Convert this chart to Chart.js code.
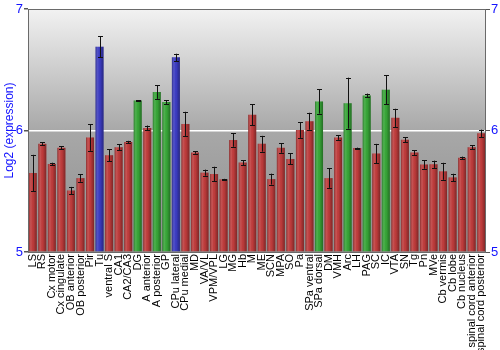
<!DOCTYPE html>
<html>
<head>
<meta charset="utf-8">
<script src="https://cdn.jsdelivr.net/npm/chart.js@4/dist/chart.umd.min.js"></script>
<style>
  html, body { margin: 0; padding: 0; background: #fff; }
  #wrap { width: 500px; height: 350px; }
</style>
</head>
<body>
<div id="wrap"><canvas id="c" width="500" height="350"></canvas></div>
<script>
// Brain regions (x categories)
const regions = [
  'LS', 'RS', 'Cx motor', 'Cx cingulate', 'OB anterior', 'OB posterior', 'Pir', 'Tu',
  'ventral S', 'CA1', 'CA2/CA3', 'DG', 'A anterior', 'A posterior', 'GP', 'CPu lateral',
  'CPu medial', 'MD', 'VA/VL', 'VPM/VPL', 'LG', 'MG', 'Hb', 'M', 'ME', 'SCN', 'MPA',
  'SO', 'Pa', 'SPa ventral', 'SPa dorsal', 'DM', 'VMH', 'Arc', 'LH', 'PAG', 'SC', 'IC',
  'VTA', 'SN', 'Tg', 'Pn', 'MVe', 'Cb vermis', 'Cb lobe', 'Cb nucleus',
  'spinal cord anterior', 'spinal cord posterior'
];

// Mean log2 expression per region
const expression = [
  5.65, 5.89, 5.725, 5.857, 5.506, 5.608, 5.943, 6.69,
  5.797, 5.863, 5.905, 6.247, 6.021, 6.317, 6.234, 6.602,
  6.054, 5.819, 5.653, 5.642, 5.598, 5.921, 5.736, 6.129, 5.891, 5.60, 5.857,
  5.766, 6.004, 6.076, 6.239, 5.608, 5.943, 6.225, 5.855, 6.289, 5.81, 6.336,
  6.104, 5.924, 5.819, 5.72, 5.722, 5.664, 5.614, 5.775,
  5.863, 5.977
];

// Error (± half-range) per region
const errorRange = [
  0.15, 0.012, 0.01, 0.012, 0.03, 0.03, 0.11, 0.085,
  0.05, 0.025, 0.01, 0.004, 0.02, 0.057, 0.015, 0.03,
  0.1, 0.01, 0.025, 0.06, 0.004, 0.055, 0.02, 0.085, 0.065, 0.045, 0.04,
  0.045, 0.065, 0.07, 0.1, 0.08, 0.02, 0.21, 0.004, 0.015, 0.08, 0.12,
  0.075, 0.02, 0.02, 0.035, 0.03, 0.07, 0.03, 0.01,
  0.015, 0.03
];

// Highlighted regions
const blueRegions = ['Tu', 'CPu lateral'];
const greenRegions = ['DG', 'A posterior', 'GP', 'SPa dorsal', 'Arc', 'PAG', 'IC'];

// Axis range and ticks
const yMin = 5;
const yMax = 7;
const yTicks = [5, 6, 7];

const RED = '#c13c3c', BLUE = '#3c3cc4', GREEN = '#38a838';
const barColors = regions.map(r =>
  blueRegions.includes(r) ? BLUE : (greenRegions.includes(r) ? GREEN : RED));

const FONT = '"Liberation Sans", Arial, sans-serif';
const AXIS_BLUE = '#1414ff';

// Plot-area background: vertical grey gradient
const backgroundPlugin = {
  id: 'plotBackground',
  beforeDraw(chart) {
    const { ctx, chartArea: a } = chart;
    const g = ctx.createLinearGradient(0, a.top, 0, a.bottom);
    g.addColorStop(0, '#f2f2f2');
    g.addColorStop(0.5, '#a8a8a8');
    g.addColorStop(1, '#8e8e8e');
    ctx.save();
    ctx.fillStyle = g;
    ctx.fillRect(a.left, a.top, a.right - a.left, a.bottom - a.top);
    ctx.restore();
  }
};

// Cylinder-like shading on each bar, then error bars and frame
const barDecorPlugin = {
  id: 'barDecor',
  afterDatasetsDraw(chart) {
    const { ctx, chartArea: a } = chart;
    const meta = chart.getDatasetMeta(0);
    const y = chart.scales.y;
    ctx.save();
    meta.data.forEach((bar) => {
      const p = bar.getProps(['x', 'y', 'base', 'width'], true);
      const left = p.x - p.width / 2;
      const g = ctx.createLinearGradient(left, 0, left + p.width, 0);
      g.addColorStop(0, 'rgba(0,0,0,0.30)');
      g.addColorStop(0.3, 'rgba(255,255,255,0.10)');
      g.addColorStop(0.55, 'rgba(0,0,0,0.02)');
      g.addColorStop(1, 'rgba(0,0,0,0.35)');
      ctx.fillStyle = g;
      ctx.fillRect(left, p.y, p.width, p.base - p.y);
    });
    // error bars
    ctx.lineWidth = 1;
    meta.data.forEach((bar, i) => {
      const x = Math.round(bar.x) + 0.5;
      const hi = y.getPixelForValue(expression[i] + errorRange[i]);
      const lo = y.getPixelForValue(expression[i] - errorRange[i]);
      ctx.strokeStyle = '#111';
      ctx.beginPath();
      ctx.moveTo(x, hi); ctx.lineTo(x, lo);
      ctx.moveTo(x - 2.5, Math.round(hi) + 0.5); ctx.lineTo(x + 2.5, Math.round(hi) + 0.5);
      ctx.moveTo(x - 2.5, Math.round(lo) + 0.5); ctx.lineTo(x + 2.5, Math.round(lo) + 0.5);
      ctx.stroke();
    });
    // frame
    ctx.strokeStyle = '#6a6a6a';
    ctx.strokeRect(Math.round(a.left) + 0.5, Math.round(a.top) + 0.5,
      Math.round(a.right - a.left) - 1, Math.round(a.bottom - a.top));
    ctx.restore();
  }
};

new Chart(document.getElementById('c'), {
  type: 'bar',
  data: {
    labels: regions,
    datasets: [{
      data: expression,
      backgroundColor: barColors,
      borderWidth: 0,
      barPercentage: 0.84,
      categoryPercentage: 1.0,
      base: yMin
    }]
  },
  options: {
    responsive: false,
    animation: false,
    devicePixelRatio: 1,
    layout: { padding: { top: 9, left: 0, right: 0, bottom: 0 } },
    plugins: { legend: { display: false }, tooltip: { enabled: false } },
    scales: {
      x: {
        offset: true,
        grid: { display: true, color: 'transparent', drawTicks: false },
        border: { display: false },
        ticks: {
          autoSkip: false, minRotation: 90, maxRotation: 90, padding: 2,
          color: '#000', font: { family: FONT, size: 11 }
        },
        afterFit(s) { s.height = 98; }
      },
      y: {
        position: 'left',
        min: yMin, max: yMax,
        afterBuildTicks(s) { s.ticks = yTicks.map(v => ({ value: v })); },
        grid: {
          color: c => (c.tick && c.tick.value === 6) ? '#ffffff' : 'transparent',
          lineWidth: 1.5,
          tickColor: '#555', tickLength: 4
        },
        border: { display: false },
        ticks: { color: AXIS_BLUE, padding: 1, font: { family: FONT, size: 13 } },
        title: {
          display: true, text: 'Log2 (expression)', color: AXIS_BLUE,
          font: { family: FONT, size: 12 }, padding: { top: 2, bottom: 2 }
        },
        afterFit(s) { s.width = 28; }
      },
      y2: {
        position: 'right',
        min: yMin, max: yMax,
        afterBuildTicks(s) { s.ticks = yTicks.map(v => ({ value: v })); },
        grid: { drawOnChartArea: false, tickColor: '#555', tickLength: 4 },
        border: { display: false },
        ticks: { color: AXIS_BLUE, padding: 1, font: { family: FONT, size: 13 } },
        afterFit(s) { s.width = 14; }
      }
    }
  },
  plugins: [backgroundPlugin, barDecorPlugin]
});
</script>
</body>
</html>
